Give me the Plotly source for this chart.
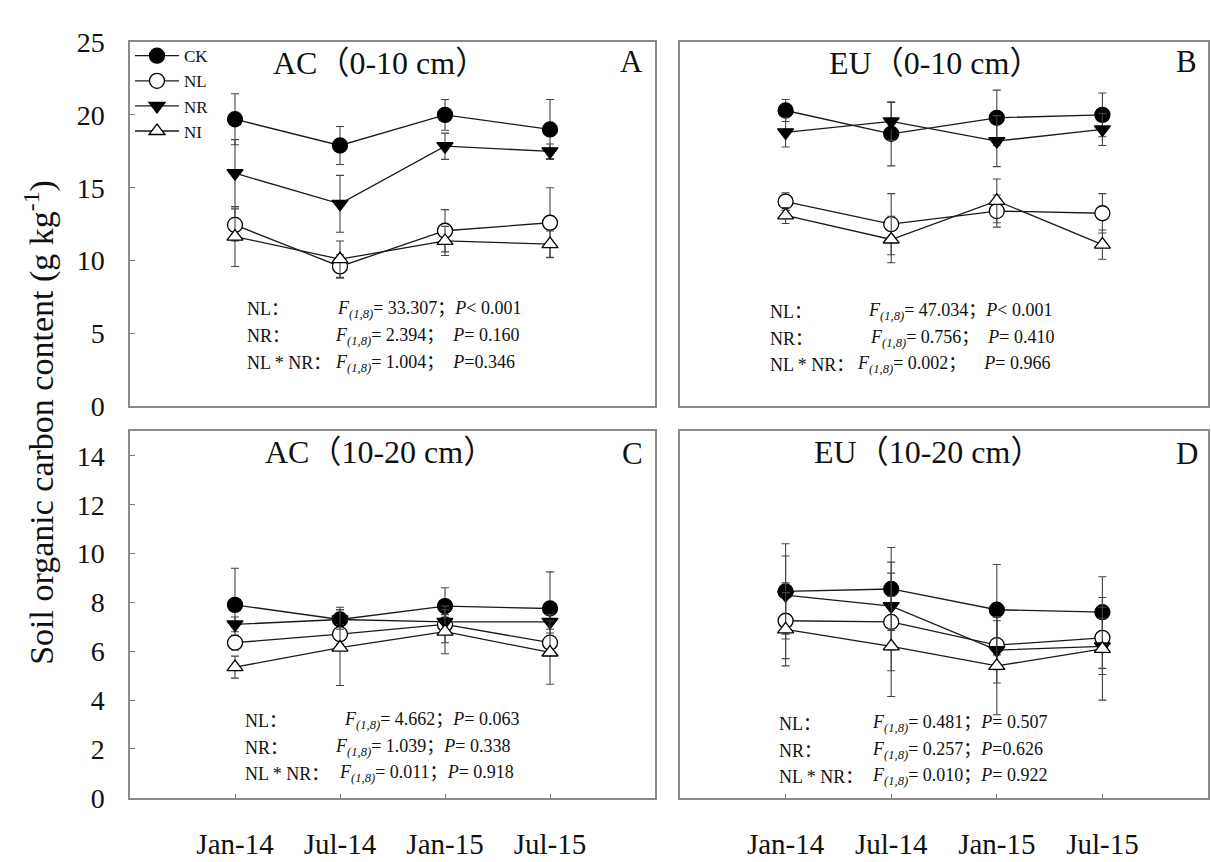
import plotly.graph_objects as go

# ---------------- data ----------------
dates = ["Jan-14", "Jul-14", "Jan-15", "Jul-15"]
treatments = ["CK", "NL", "NR", "NI"]

# Panel A: AC (0-10 cm)
a_ck = [19.7, 17.9, 20.0, 19.0]
a_ck_err = [1.75, 1.3, 1.05, 2.05]
a_nl = [12.45, 9.6, 12.05, 12.6]
a_nl_err = [1.1, 0.8, 1.45, 2.4]
a_nr = [16.0, 13.9, 17.85, 17.5]
a_nr_err = [2.3, 1.95, 0.9, 0.5]
a_ni = [11.65, 10.1, 11.35, 11.13]
a_ni_err = [2.05, 1.25, 1.0, 0.9]

# Panel B: EU (0-10 cm)
b_ck = [20.3, 18.7, 19.8, 20.0]
b_ck_err = [0.75, 2.2, 1.9, 1.5]
b_nl = [14.05, 12.5, 13.4, 13.25]
b_nl_err = [0.6, 2.1, 1.1, 1.35]
b_nr = [18.8, 19.55, 18.2, 19.0]
b_nr_err = [1.0, 1.3, 1.75, 1.1]
b_ni = [13.1, 11.45, 14.1, 11.1]
b_ni_err = [0.55, 1.6, 1.5, 1.0]

# Panel C: AC (10-20 cm)
c_ck = [7.9, 7.3, 7.85, 7.75]
c_ck_err = [1.5, 0.5, 0.75, 1.5]
c_nl = [6.35, 6.7, 7.1, 6.35]
c_nl_err = [0.3, 0.4, 0.75, 0.4]
c_nr = [7.1, 7.3, 7.2, 7.2]
c_nr_err = [0.3, 0.4, 0.3, 0.3]
c_ni = [5.35, 6.15, 6.8, 5.95]
c_ni_err = [0.45, 1.55, 0.9, 1.3]

# Panel D: EU (10-20 cm)
d_ck = [8.45, 8.55, 7.7, 7.6]
d_ck_err = [1.95, 1.7, 1.85, 1.45]
d_nl = [7.25, 7.2, 6.25, 6.55]
d_nl_err = [1.55, 2.0, 1.0, 1.25]
d_nr = [8.3, 7.85, 6.05, 6.2]
d_nr_err = [1.6, 1.8, 1.35, 1.15]
d_ni = [6.9, 6.2, 5.4, 6.1]
d_ni_err = [1.5, 2.05, 2.0, 2.1]

panel_titles = ["AC（0-10 cm）", "EU（0-10 cm）", "AC（10-20 cm）", "EU（10-20 cm）"]
panel_letters = ["A", "B", "C", "D"]

stat_labels = ["NL：", "NR：", "NL * NR："]
a_stats = ["<i>F</i><sub><i>(1,8)</i></sub>= 33.307；<i>P</i>< 0.001",
           "<i>F</i><sub><i>(1,8)</i></sub>= 2.394；  <i>P</i>= 0.160",
           "<i>F</i><sub><i>(1,8)</i></sub>= 1.004；  <i>P</i>=0.346"]
b_stats = ["<i>F</i><sub><i>(1,8)</i></sub>= 47.034；<i>P</i>< 0.001",
           "<i>F</i><sub><i>(1,8)</i></sub>= 0.756；  <i>P</i>= 0.410",
           "<i>F</i><sub><i>(1,8)</i></sub>= 0.002；    <i>P</i>= 0.966"]
c_stats = ["<i>F</i><sub><i>(1,8)</i></sub>= 4.662；<i>P</i>= 0.063",
           "<i>F</i><sub><i>(1,8)</i></sub>= 1.039；<i>P</i>= 0.338",
           "<i>F</i><sub><i>(1,8)</i></sub>= 0.011；<i>P</i>= 0.918"]
d_stats = ["<i>F</i><sub><i>(1,8)</i></sub>= 0.481；<i>P</i>= 0.507",
           "<i>F</i><sub><i>(1,8)</i></sub>= 0.257；<i>P</i>=0.626",
           "<i>F</i><sub><i>(1,8)</i></sub>= 0.010；<i>P</i>= 0.922"]

top_yticks = [0, 5, 10, 15, 20, 25]
bottom_yticks = [0, 2, 4, 6, 8, 10, 12, 14]

# ---------------- figure ----------------
W, H = 1211, 862
FONT = "Liberation Serif, Times New Roman, Noto Sans CJK SC, serif"

def px(x):
    return x / W

def py(y):
    return 1 - y / H

panels = [
    dict(series=[(a_ck, a_ck_err), (a_nl, a_nl_err), (a_nr, a_nr_err), (a_ni, a_ni_err)],
         xa="x", ya="y", stats=a_stats),
    dict(series=[(b_ck, b_ck_err), (b_nl, b_nl_err), (b_nr, b_nr_err), (b_ni, b_ni_err)],
         xa="x2", ya="y2", stats=b_stats),
    dict(series=[(c_ck, c_ck_err), (c_nl, c_nl_err), (c_nr, c_nr_err), (c_ni, c_ni_err)],
         xa="x3", ya="y3", stats=c_stats),
    dict(series=[(d_ck, d_ck_err), (d_nl, d_nl_err), (d_nr, d_nr_err), (d_ni, d_ni_err)],
         xa="x4", ya="y4", stats=d_stats),
]

styles = {
    "CK": dict(symbol="circle", color="#000000", size=15),
    "NL": dict(symbol="circle", color="#ffffff", size=15),
    "NR": dict(symbol="triangle-down", color="#000000", size=14),
    "NI": dict(symbol="triangle-up", color="#ffffff", size=14),
}

fig = go.Figure()
xpos = list(range(len(dates)))
for pi, p in enumerate(panels):
    for ti, (vals, errs) in enumerate(p["series"]):
        name = treatments[ti]
        st = styles[name]
        fig.add_trace(go.Scatter(
            x=xpos, y=vals, xaxis=p["xa"], yaxis=p["ya"],
            mode="lines+markers", name=name,
            legendgroup=name, showlegend=(pi == 0),
            line=dict(color="#1a1a1a", width=1.3),
            marker=dict(symbol=st["symbol"], color=st["color"], size=st["size"],
                        line=dict(color="#000000", width=1.3)),
            error_y=dict(type="data", array=errs, visible=True,
                         color="#444444", thickness=1.1, width=4),
        ))

frame = dict(showline=True, mirror=True, linecolor="#8a8a8a", linewidth=1.5,
             showgrid=False, zeroline=False)

xdom_left = [px(130), px(655)]
xdom_right = [px(680), px(1208)]
ydom_top = [py(406), py(28)]
ydom_bot = [py(812), py(432)]

def xaxis(dom, anchor, labels):
    return dict(domain=dom, anchor=anchor, range=[-1, 4], tickmode="array",
                tickvals=xpos, ticktext=dates, showticklabels=labels,
                ticks="inside" if labels else "", ticklen=4, tickcolor="#777",
                ticklabelstandoff=20,
                tickfont=dict(family=FONT, size=29, color="#111"), **frame)

def yaxis(dom, anchor, rng, tv, labels):
    return dict(domain=dom, anchor=anchor, range=rng, tickmode="array", tickvals=tv,
                showticklabels=labels, ticks="inside" if labels else "", ticklen=5,
                tickcolor="#777", ticklabelstandoff=18,
                tickfont=dict(family=FONT, size=28, color="#111"), **frame)

fig.update_layout(
    width=W, height=H,
    margin=dict(l=0, r=0, t=0, b=0),
    paper_bgcolor="white", plot_bgcolor="white",
    font=dict(family=FONT, color="#111"),
    xaxis=xaxis(xdom_left, "y", False),
    xaxis2=xaxis(xdom_right, "y2", False),
    xaxis3=xaxis(xdom_left, "y3", True),
    xaxis4=xaxis(xdom_right, "y4", True),
    yaxis=yaxis(ydom_top, "x", [0, 25], top_yticks, True),
    yaxis2=yaxis(ydom_top, "x2", [0, 25], top_yticks, False),
    yaxis3=yaxis(ydom_bot, "x3", [0, 15], bottom_yticks, True),
    yaxis4=yaxis(ydom_bot, "x4", [0, 15], bottom_yticks, False),
    legend=dict(x=px(130), y=py(24), xanchor="left", yanchor="top",
                bgcolor="rgba(0,0,0,0)", font=dict(family=FONT, size=17, color="#111"),
                itemwidth=44, tracegroupgap=0, traceorder="grouped"),
)

ann = []
title_pos = [(380, 50), (935, 50), (380, 453), (928, 453)]
letter_pos = [(631, 48), (1186, 48), (632, 455), (1187, 455)]
label_x = [245, 768, 243, 777]
stat_x = [[335, 333, 333], [866, 868, 855], [342, 333, 337], [870, 870, 870]]
row_y = [[305, 333, 361], [308, 336, 363], [732, 760, 787], [735, 763, 790]]

for i in range(4):
    tx, ty = title_pos[i]
    ann.append(dict(x=px(tx), y=py(ty), xref="paper", yref="paper", text=panel_titles[i],
                    showarrow=False, xanchor="center", yanchor="middle",
                    font=dict(family=FONT, size=32, color="#111")))
    lx, ly = letter_pos[i]
    ann.append(dict(x=px(lx), y=py(ly), xref="paper", yref="paper", text=panel_letters[i],
                    showarrow=False, xanchor="center", yanchor="middle",
                    font=dict(family=FONT, size=31, color="#111")))
    for r in range(3):
        ann.append(dict(x=px(label_x[i]), y=py(row_y[i][r]), xref="paper", yref="paper",
                        text=stat_labels[r], showarrow=False, xanchor="left", yanchor="middle",
                        font=dict(family=FONT, size=18, color="#111")))
        ann.append(dict(x=px(stat_x[i][r]), y=py(row_y[i][r]), xref="paper", yref="paper",
                        text=panels[i]["stats"][r], showarrow=False, xanchor="left",
                        yanchor="middle", font=dict(family=FONT, size=18, color="#111")))

ann.append(dict(x=px(40), y=py(423), xref="paper", yref="paper",
                text="Soil organic carbon content (g kg<sup>-1</sup>)", textangle=-90,
                showarrow=False, xanchor="center", yanchor="middle",
                font=dict(family=FONT, size=34, color="#111")))

fig.update_layout(annotations=ann)
fig.write_html("out.html", config={"displayModeBar": False},
               post_script="document.body.style.margin='0';document.body.style.padding='0';")
